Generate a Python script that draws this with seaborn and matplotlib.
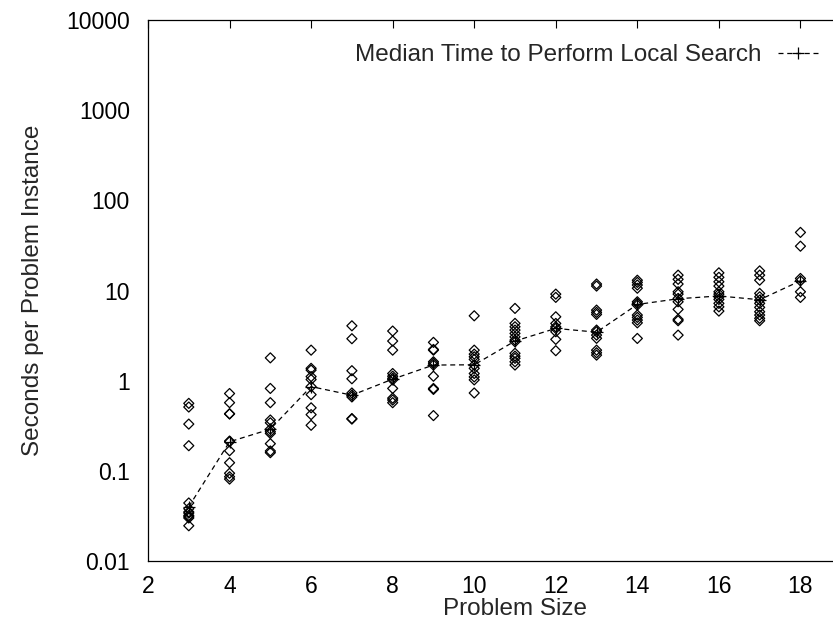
import numpy as np
import pandas as pd
import matplotlib
matplotlib.use("Agg")
import matplotlib.pyplot as plt
import matplotlib.ticker as mticker
import seaborn as sns

# ---- data ----
problem_sizes = [3, 4, 5, 6, 7, 8, 9, 10, 11, 12, 13, 14, 15, 16, 17, 18]

times_3 = [0.56, 0.51, 0.33, 0.19, 0.044, 0.038, 0.035, 0.034, 0.032, 0.031, 0.030, 0.0246]
times_4 = [0.72, 0.57, 0.43, 0.427, 0.214, 0.210, 0.167, 0.123, 0.094, 0.086, 0.081]
times_5 = [1.79, 0.82, 0.57, 0.366, 0.341, 0.29, 0.272, 0.26, 0.20, 0.166, 0.159]
times_6 = [2.18, 1.37, 1.31, 1.11, 1.03, 0.86, 0.70, 0.50, 0.42, 0.32]
times_7 = [4.06, 2.92, 1.29, 1.05, 0.73, 0.69, 0.66, 0.38, 0.375]
times_8 = [3.55, 2.75, 2.18, 1.20, 1.12, 1.06, 1.02, 0.82, 0.64, 0.61, 0.57]
times_9 = [2.66, 2.22, 2.18, 1.62, 1.56, 1.49, 1.12, 0.82, 0.80, 0.41]
times_10 = [5.24, 2.18, 1.97, 1.84, 1.72, 1.49, 1.37, 1.20, 1.10, 1.02, 0.73]
times_11 = [6.33, 4.32, 3.96, 3.64, 3.34, 3.06, 2.82, 2.70, 2.01, 1.87, 1.77, 1.62, 1.49]
times_12 = [9.12, 8.39, 5.11, 4.31, 3.96, 3.80, 3.49, 2.87, 2.15]
times_13 = [11.8, 11.2, 6.06, 5.72, 5.43, 3.64, 3.49, 3.20, 2.95, 2.18, 2.04, 1.92]
times_14 = [13.0, 12.3, 11.5, 10.6, 7.50, 7.20, 6.89, 5.34, 5.03, 4.70, 4.38, 2.94]
times_15 = [14.8, 13.3, 11.8, 9.68, 9.12, 8.17, 7.50, 6.17, 4.79, 4.62, 3.20]
times_16 = [15.7, 14.0, 12.5, 11.2, 9.68, 9.12, 8.51, 7.96, 7.20, 6.59, 5.91]
times_17 = [16.5, 14.8, 13.0, 9.29, 8.51, 7.83, 7.20, 6.50, 5.81, 5.34, 4.91, 4.62]
times_18 = [44.1, 31.0, 13.6, 12.8, 9.68, 8.38]

median_times = [0.040, 0.21, 0.29, 0.86, 0.69, 1.04, 1.49, 1.50, 2.75,
                3.8, 3.45, 7.0, 8.1, 8.7, 7.9, 12.8]

x_ticks = [2, 4, 6, 8, 10, 12, 14, 16, 18]
y_ticks = [0.01, 0.1, 1, 10, 100, 1000, 10000]
y_tick_labels = ["0.01", "0.1", "1", "10", "100", "1000", "10000"]
legend_label = "Median Time to Perform Local Search"

all_times = [times_3, times_4, times_5, times_6, times_7, times_8, times_9, times_10,
             times_11, times_12, times_13, times_14, times_15, times_16, times_17, times_18]

scatter_df = pd.DataFrame({
    "size": [s for s, ts in zip(problem_sizes, all_times) for _ in ts],
    "time": [t for ts in all_times for t in ts],
})
median_df = pd.DataFrame({"size": problem_sizes, "time": median_times})

# ---- figure ----
sns.set_style("white")
plt.rcParams["font.family"] = ["Liberation Sans", "DejaVu Sans"]

W, H = 833, 624
fig = plt.figure(figsize=(W / 100, H / 100), dpi=100)
left, right, top, bottom = 148, 882, 20, 561
ax = fig.add_axes([left / W, (H - bottom) / H, (right - left) / W, (bottom - top) / H])

sns.scatterplot(data=scatter_df, x="size", y="time", ax=ax, marker="D", s=26,
                facecolor="none", edgecolor="black", linewidth=0.9, legend=False, zorder=3)
sns.lineplot(data=median_df, x="size", y="time", ax=ax, color="black", linewidth=0.9,
             linestyle=(0, (4, 3)), marker="+", markersize=9, markeredgewidth=0.9,
             markeredgecolor="black", label=legend_label, zorder=4)

ax.set_yscale("log")
ax.set_xlim(2, 20)
ax.set_ylim(0.01, 10000)
ax.set_xticks(x_ticks)
ax.set_xticklabels([str(v) for v in x_ticks])
ax.set_yticks(y_ticks)
ax.set_yticklabels(y_tick_labels)
ax.yaxis.set_minor_locator(mticker.LogLocator(base=10, subs=[2, 5, 8]))
ax.yaxis.set_minor_formatter(mticker.NullFormatter())

for sp in ax.spines.values():
    sp.set_visible(True)
    sp.set_color("black")
    sp.set_linewidth(0.9)

ax.tick_params(axis="both", which="major", direction="in", length=6, width=0.8,
               top=True, right=True, labelsize=16.5, colors="black")
ax.tick_params(axis="y", which="minor", direction="in", length=3.5, width=0.8, right=True)
ax.tick_params(axis="y", which="major", pad=13)
ax.tick_params(axis="x", which="major", pad=10)

ax.set_xlabel("Problem Size", fontsize=17.5, labelpad=0)
ax.set_ylabel("Seconds per Problem Instance", fontsize=17.5, labelpad=16)
ax.grid(False)

leg = ax.legend(loc="upper right", bbox_to_anchor=(818 / W, 1 - 44 / H),
                bbox_transform=fig.transFigure, frameon=False, fontsize=17.5,
                markerfirst=False, handlelength=1.65, handletextpad=0.66,
                borderpad=0, borderaxespad=0)

fig.savefig("out.png", dpi=100)
